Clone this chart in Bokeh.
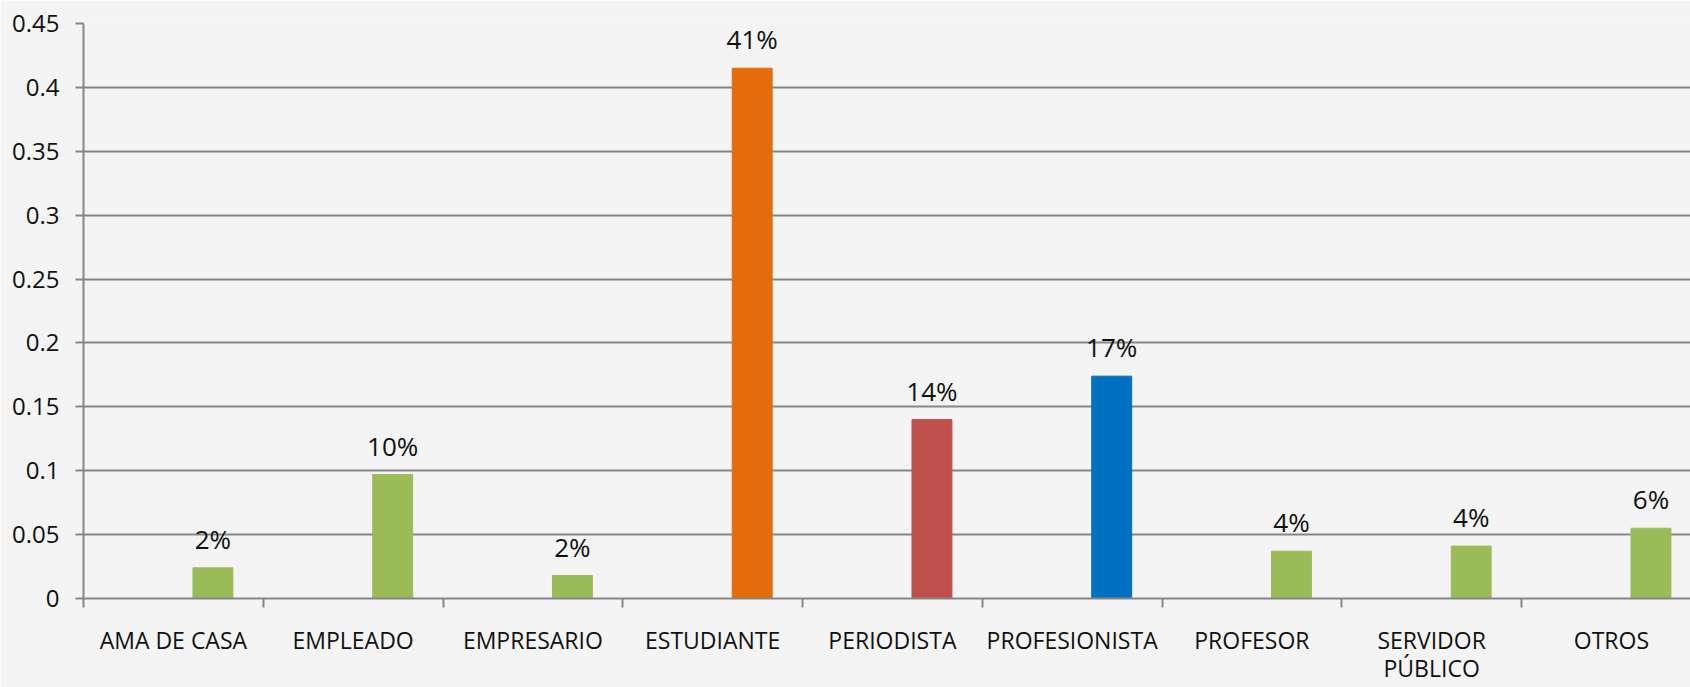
import numpy as np
from bokeh.plotting import figure
from bokeh.models import Range1d, FixedTicker, ColumnDataSource
from bokeh.core.properties import value
from bokeh.embed import file_html
from bokeh.resources import INLINE

categories = ["AMA DE CASA", "EMPLEADO", "EMPRESARIO", "ESTUDIANTE", "PERIODISTA",
              "PROFESIONISTA", "PROFESOR", "SERVIDOR\nPÚBLICO", "OTROS"]
shares = [0.024, 0.097, 0.018, 0.415, 0.140, 0.174, 0.037, 0.041, 0.055]
share_labels = ["2%", "10%", "2%", "41%", "14%", "17%", "4%", "4%", "6%"]
bar_colors = ["#9BBB59", "#9BBB59", "#9BBB59", "#E46C0A", "#C0504D",
              "#0070C0", "#9BBB59", "#9BBB59", "#9BBB59"]
y_ticks = [0, 0.05, 0.1, 0.15, 0.2, 0.25, 0.3, 0.35, 0.4, 0.45]
y_tick_labels = ["0", "0.05", "0.1", "0.15", "0.2", "0.25", "0.3", "0.35", "0.4", "0.45"]

FONT = "Open Sans"
BG = "#F4F4F4"

idx = np.arange(len(categories))
centers = idx + 0.5
src = ColumnDataSource(dict(x=centers + 0.22, top=shares, color=bar_colors, lab=share_labels))

p = figure(width=1690, height=687, output_backend="svg", toolbar_location=None,
           x_range=Range1d(0, 8.94), y_range=Range1d(0, 0.45),
           min_border_left=83, min_border_top=23, min_border_bottom=60, min_border_right=0,
           background_fill_color=BG, border_fill_color=BG, outline_line_color=None)

p.vbar(x="x", top="top", width=0.222, bottom=0, color="color", source=src)
p.text(x="x", y="top", text="lab", source=src, text_align="center", text_baseline="bottom",
       y_offset=-11, text_font=value(FONT), text_font_size="26px", text_color="#111111")

# y axis
p.yaxis.ticker = FixedTicker(ticks=y_ticks)
p.yaxis.major_label_overrides = {t: l for t, l in zip(y_ticks, y_tick_labels)}
p.yaxis.major_label_text_font = FONT
p.yaxis.major_label_text_font_size = "24px"
p.yaxis.major_label_text_color = "#111111"
p.yaxis.axis_line_color = "#868686"
p.yaxis.axis_line_width = 2
p.yaxis.major_tick_line_color = "#868686"
p.yaxis.major_tick_line_width = 2
p.yaxis.major_tick_out = 8
p.yaxis.major_tick_in = 0
p.yaxis.minor_tick_line_color = None
p.yaxis.major_label_standoff = 16

# x axis: labels at centers, tick marks at boundaries (minor ticks)
p.xaxis.ticker = FixedTicker(ticks=list(centers), minor_ticks=list(idx.astype(float)) + [float(len(categories))])
p.xaxis.major_label_overrides = {float(c): n for c, n in zip(centers, categories)}
p.xaxis.major_label_text_font = FONT
p.xaxis.major_label_text_font_size = "23px"
p.xaxis.major_label_text_line_height = 0.9
p.xaxis.major_label_text_color = "#111111"
p.xaxis.major_tick_line_color = None
p.xaxis.major_tick_out = 0
p.xaxis.minor_tick_line_color = "#868686"
p.xaxis.minor_tick_line_width = 2
p.xaxis.minor_tick_out = 9
p.xaxis.minor_tick_in = 0
p.xaxis.axis_line_color = "#868686"
p.xaxis.axis_line_width = 2
p.xaxis.major_label_standoff = 16

p.xgrid.grid_line_color = None
p.ygrid.ticker = FixedTicker(ticks=y_ticks)
p.ygrid.grid_line_color = "#868686"
p.ygrid.grid_line_width = 2

open("out.html", "w").write(file_html(p, INLINE))
